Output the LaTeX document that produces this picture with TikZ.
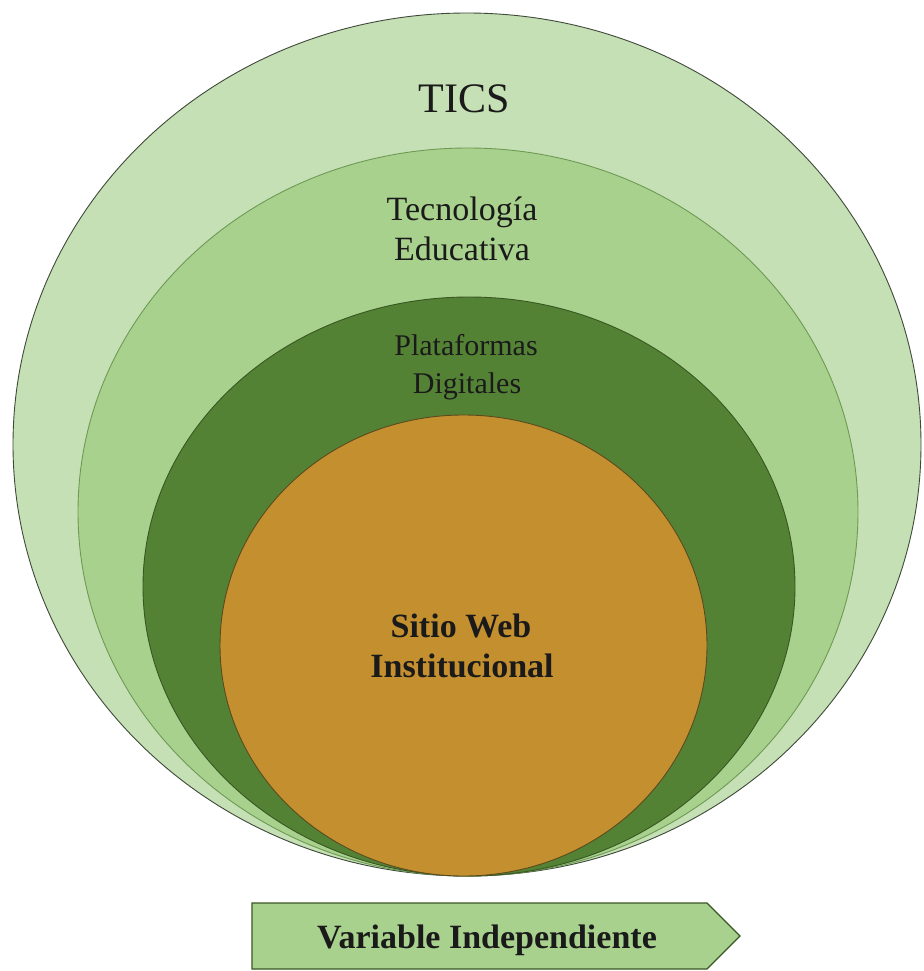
\documentclass[tikz,border=0pt]{standalone}
\usepackage{fontspec}
\setmainfont{Liberation Serif}
\definecolor{ringA}{HTML}{C5E0B4}
\definecolor{ringB}{HTML}{A9D18E}
\definecolor{ringC}{HTML}{548235}
\definecolor{core}{HTML}{C4902F}
\definecolor{lineA}{HTML}{3F4A3A}
\definecolor{lineB}{HTML}{6E9A55}
\definecolor{lineC}{HTML}{385723}
\definecolor{lineD}{HTML}{5A4A1E}
\definecolor{txt}{HTML}{1A1A1A}
\begin{document}
\begin{tikzpicture}[x=1pt,y=-1pt,
  lbl/.style={anchor=base,inner sep=0pt,text=txt},
  ring/.style={line width=0.9pt}]
\useasboundingbox (0,0) rectangle (923,971);
\fill[white] (0,0) rectangle (923,971);
% rings
\draw[ring,fill=ringA,draw=lineA] (467,444.5) ellipse [x radius=454,y radius=431.5];
\draw[ring,fill=ringB,draw=lineB] (468,512) ellipse [x radius=390,y radius=364];
\draw[ring,fill=ringC,draw=lineC] (469,586.5) ellipse [x radius=326,y radius=289.5];
\draw[ring,fill=core,draw=lineD] (463.5,645.5) ellipse [x radius=243.5,y radius=230.5];
% labels
\node[lbl,font=\fontsize{42}{48}\selectfont] (tics) at (464,113) {TICS};
\node[lbl,font=\fontsize{34}{40}\selectfont] (tec1) at (462,220) {Tecnología};
\node[lbl,font=\fontsize{34}{40}\selectfont] (tec2) at (462,260) {Educativa};
\node[lbl,font=\fontsize{30}{36}\selectfont] (pla1) at (466,355) {Plataformas};
\node[lbl,font=\fontsize{30}{36}\selectfont] (pla2) at (467,393) {Digitales};
\node[lbl,font=\bfseries\fontsize{34}{40}\selectfont] (sit1) at (461,637) {Sitio Web};
\node[lbl,font=\bfseries\fontsize{34}{40}\selectfont] (sit2) at (462,677) {Institucional};
% arrow
\draw[line width=1.2pt,draw=lineC,fill=ringB]
  (252,903) -- (707,903) -- (740,936) -- (707,969) -- (252,969) -- cycle;
\node[lbl,font=\bfseries\fontsize{34}{40}\selectfont] (var) at (487,948) {Variable Independiente};
\end{tikzpicture}
\end{document}
